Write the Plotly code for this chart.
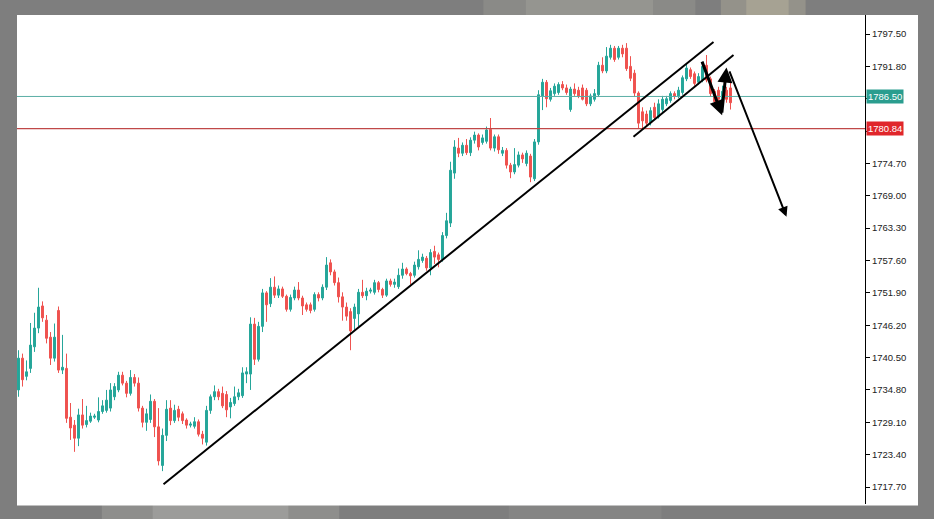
import plotly.graph_objects as go

# ---- data (candle index 0..178) ----
OPEN = [1734.8,1740.4,1737.2,1738.6,1742.4,1745.7,1749.6,1747.1,1744.1,1740.4,
        1748.8,1738.3,1738.6,1730.0,1728.6,1726.3,1730.4,1728.7,1729.3,1730.0,
        1729.5,1731.0,1731.2,1731.6,1733.6,1734.8,1737.4,1736.0,1734.2,1737.0,
        1736.0,1731.6,1729.1,1729.6,1732.8,1728.3,1721.5,1726.8,1731.6,1729.4,
        1731.4,1730.6,1729.5,1728.6,1728.4,1729.2,1727.0,1725.6,1731.2,1733.6,
        1734.5,1734.2,1734.0,1731.8,1732.4,1733.6,1733.8,1737.6,1737.6,1746.4,
        1740.2,1746.0,1751.9,1750.0,1752.9,1751.5,1752.6,1751.3,1749.0,1751.0,
        1752.4,1751.0,1749.8,1749.8,1749.0,1751.6,1751.0,1752.9,1757.2,1755.6,
        1753.7,1751.2,1749.4,1748.6,1747.4,1748.2,1752.0,1751.4,1752.2,1752.0,
        1753.7,1752.5,1751.5,1754.0,1753.4,1753.0,1755.0,1756.1,1755.3,1755.0,
        1756.5,1757.6,1758.0,1756.3,1759.2,1758.6,1757.8,1762.0,1764.2,1773.0,
        1777.4,1776.5,1777.9,1776.6,1778.8,1779.7,1778.4,1778.6,1780.7,1777.4,
        1779.4,1776.5,1777.0,1774.4,1773.2,1774.4,1776.2,1774.7,1776.0,1772.0,
        1778.5,1786.6,1789.0,1786.0,1787.0,1787.2,1788.6,1788.0,1784.2,1787.8,
        1787.6,1788.0,1787.6,1785.2,1786.0,1786.8,1792.0,1791.0,1793.4,1795.0,
        1793.4,1795.0,1795.0,1791.8,1790.6,1787.1,1783.8,1783.4,1781.9,1784.6,
        1782.9,1784.2,1785.2,1785.8,1787.0,1786.6,1787.2,1789.6,1791.2,1790.5,
        1789.0,1789.4,1792.0,1789.6,1787.4,1787.6,1785.4,1787.6,1788.0]
HIGH = [1741.8,1741.2,1740.0,1746.6,1748.4,1752.8,1750.4,1748.0,1745.0,1746.5,
        1749.5,1744.5,1741.2,1732.5,1729.5,1731.5,1733.2,1732.0,1730.8,1730.6,
        1733.5,1733.0,1734.8,1736.0,1736.0,1738.0,1738.0,1736.4,1738.3,1737.6,
        1737.0,1732.0,1731.5,1734.0,1733.2,1731.6,1728.0,1733.0,1733.0,1732.2,
        1732.0,1731.0,1729.8,1729.2,1730.0,1729.6,1727.6,1732.0,1734.0,1735.6,
        1735.0,1735.4,1734.6,1733.4,1735.4,1735.0,1738.8,1738.8,1747.6,1747.5,
        1746.8,1752.6,1752.2,1754.5,1754.8,1753.2,1753.0,1751.6,1751.6,1753.0,
        1753.8,1751.4,1750.2,1750.2,1752.0,1752.0,1753.4,1758.2,1757.8,1756.0,
        1754.6,1752.0,1750.2,1749.2,1750.0,1752.6,1754.2,1752.8,1752.8,1754.2,
        1754.0,1752.8,1754.4,1754.4,1754.4,1756.2,1757.2,1756.4,1755.6,1757.4,
        1759.4,1758.8,1758.4,1759.6,1760.2,1759.0,1762.6,1766.0,1775.0,1778.8,
        1779.2,1778.4,1779.0,1779.3,1780.3,1780.0,1779.8,1781.2,1782.7,1779.8,
        1779.8,1777.6,1777.4,1774.8,1777.4,1776.8,1776.6,1777.0,1776.4,1779.0,
        1787.6,1789.6,1789.4,1788.0,1788.8,1789.0,1789.2,1788.6,1788.2,1788.8,
        1788.2,1788.6,1788.0,1787.0,1787.8,1792.6,1793.4,1795.2,1795.6,1795.4,
        1795.4,1795.6,1795.9,1793.6,1791.2,1787.4,1784.6,1784.0,1784.6,1785.4,
        1786.0,1786.6,1786.6,1787.4,1787.4,1788.2,1790.2,1792.4,1791.6,1790.9,
        1790.6,1792.6,1793.8,1790.0,1787.8,1788.2,1788.4,1788.2,1789.0]
LOW = [1733.6,1735.4,1736.5,1737.8,1741.5,1744.8,1746.8,1743.0,1739.2,1739.8,
       1737.8,1737.6,1729.0,1726.0,1723.9,1724.9,1728.0,1728.2,1729.0,1729.7,
       1729.1,1730.6,1730.8,1731.0,1733.0,1734.4,1735.6,1733.5,1733.8,1735.4,
       1731.0,1728.2,1727.6,1729.0,1726.5,1721.5,1720.5,1725.8,1728.6,1729.0,
       1729.3,1728.8,1728.0,1728.2,1728.0,1726.6,1725.2,1725.0,1730.6,1733.0,
       1733.0,1731.6,1730.0,1729.8,1732.0,1733.0,1733.4,1736.0,1734.8,1739.2,
       1739.8,1745.0,1746.8,1749.4,1751.0,1751.0,1751.0,1748.6,1748.6,1750.6,
       1750.6,1748.0,1748.6,1748.3,1748.6,1750.4,1750.6,1752.4,1755.0,1753.2,
       1750.2,1747.0,1747.0,1741.8,1745.4,1746.0,1751.0,1750.6,1751.8,1751.6,
       1752.0,1751.0,1751.2,1753.0,1752.8,1752.6,1754.4,1755.0,1753.4,1754.6,
       1756.0,1757.2,1755.8,1755.0,1757.0,1756.4,1757.4,1761.5,1763.5,1772.0,
       1775.8,1776.0,1776.2,1776.0,1778.2,1777.0,1778.0,1778.2,1777.0,1776.8,
       1776.4,1776.0,1773.8,1772.1,1772.8,1774.0,1774.8,1774.2,1771.4,1771.6,
       1778.0,1784.1,1784.6,1785.6,1786.6,1786.8,1787.6,1786.8,1783.8,1786.6,
       1786.2,1785.8,1784.8,1784.8,1785.6,1786.4,1790.6,1790.6,1793.0,1792.6,
       1793.0,1793.4,1791.0,1789.2,1786.4,1780.9,1780.9,1781.2,1781.4,1782.4,
       1782.6,1783.8,1784.8,1785.4,1786.0,1786.2,1786.8,1789.2,1789.6,1788.4,
       1788.6,1789.0,1789.0,1786.4,1785.0,1785.4,1784.8,1785.4,1784.2]
CLOSE = [1740.4,1736.6,1738.0,1742.7,1745.7,1749.4,1747.5,1743.9,1740.4,1744.1,
         1738.3,1738.8,1729.8,1728.1,1726.3,1730.4,1728.6,1729.4,1730.2,1730.2,
         1731.0,1732.0,1733.0,1734.8,1735.4,1737.4,1736.0,1734.2,1737.0,1736.0,
         1731.6,1729.1,1730.6,1732.8,1728.3,1722.3,1726.8,1731.4,1729.4,1731.2,
         1730.0,1729.4,1728.6,1728.8,1729.2,1727.0,1726.3,1731.2,1733.6,1734.5,
         1733.6,1732.0,1731.3,1732.6,1733.6,1734.3,1737.8,1738.0,1746.4,1740.2,
         1746.0,1751.9,1749.8,1752.9,1751.5,1752.6,1751.3,1749.0,1751.1,1752.4,
         1751.0,1749.6,1749.0,1748.8,1751.6,1751.0,1752.9,1756.8,1755.6,1753.7,
         1751.2,1749.4,1747.8,1745.2,1749.4,1752.0,1751.4,1752.2,1752.4,1753.7,
         1752.5,1751.5,1754.0,1753.4,1753.8,1755.0,1756.1,1755.3,1754.9,1756.8,
         1757.8,1758.2,1756.3,1759.0,1758.2,1757.8,1762.0,1764.6,1773.5,1777.6,
         1776.5,1777.9,1776.6,1778.8,1779.7,1777.6,1779.2,1780.6,1777.4,1779.4,
         1777.1,1777.0,1774.4,1773.2,1774.5,1776.2,1775.5,1776.5,1772.3,1778.5,
         1786.8,1789.0,1786.1,1787.5,1788.3,1788.6,1788.0,1787.2,1787.8,1787.0,
         1786.6,1786.0,1785.2,1786.6,1787.0,1792.0,1791.0,1793.6,1795.0,1793.0,
         1795.0,1794.0,1791.4,1789.7,1787.1,1781.8,1782.2,1781.8,1784.0,1782.8,
         1785.2,1786.0,1786.1,1787.0,1786.5,1787.6,1789.8,1791.5,1790.0,1788.8,
         1790.0,1791.8,1789.4,1787.0,1785.6,1786.0,1787.4,1786.0,1785.4]
IDX = list(range(len(CLOSE)))

TICKS = [1717.70, 1723.40, 1729.10, 1734.80, 1740.50, 1746.20, 1751.90,
         1757.60, 1763.30, 1769.00, 1774.70, 1780.40, 1786.10, 1791.80, 1797.50]
HIDDEN_TICKS = [1780.40, 1786.10]
BID_LEVEL = 1786.50
LEVEL_2 = 1780.84

# drawn lines (candle index, price)
TREND_X = [36.25, 173.75]
TREND_Y = [1718.2, 1796.1]
CHANNEL_X = [153.75, 178.75]
CHANNEL_Y = [1779.4, 1793.8]
# arrows: tail x, tail y, head x, head y, width
ARROWS = [(170.75, 1792.9, 175.9, 1783.2, 3),
          (175.8, 1783.4, 177.0, 1791.6, 3),
          (177.6, 1791.2, 192.0, 1765.3, 2)]

GREEN = "#26a69a"
RED = "#ef5350"

fig = go.Figure()
fig.add_trace(go.Candlestick(
    x=IDX, open=OPEN, high=HIGH, low=LOW, close=CLOSE,
    increasing=dict(line=dict(color=GREEN, width=1), fillcolor=GREEN),
    decreasing=dict(line=dict(color=RED, width=1), fillcolor=RED),
    whiskerwidth=0, showlegend=False, hoverinfo="skip"))

shapes = []
# blurred grey surroundings (soft, layered patches)
for x0, x1, y0, y1, col in [
        (0.55, 0.80, 1.0, 1.04, "rgba(175,175,165,0.25)"),
        (0.60, 0.75, 1.0, 1.04, "rgba(185,185,170,0.25)"),
        (0.83, 0.93, 1.0, 1.04, "rgba(200,192,165,0.3)"),
        (0.86, 0.91, 1.0, 1.04, "rgba(210,200,170,0.3)"),
        (0.10, 0.38, -0.04, 0.0, "rgba(190,190,185,0.25)"),
        (0.16, 0.32, -0.04, 0.0, "rgba(200,200,195,0.25)"),
        (0.58, 0.76, -0.04, 0.0, "rgba(165,165,160,0.2)")]:
    shapes.append(dict(type="rect", xref="paper", yref="paper", x0=x0, x1=x1,
                       y0=y0, y1=y1, fillcolor=col, line_width=0, layer="below"))
# white chart panel (incl. price scale)
shapes.append(dict(type="rect", xref="paper", yref="paper", x0=0, x1=1.0625,
                   y0=-0.003, y1=1.0, fillcolor="white", line_width=0, layer="below"))
# horizontal price lines
shapes.append(dict(type="line", xref="paper", yref="y", x0=0, x1=1,
                   y0=BID_LEVEL, y1=BID_LEVEL, line=dict(color="#5aaea6", width=1)))
shapes.append(dict(type="line", xref="paper", yref="y", x0=0, x1=1,
                   y0=LEVEL_2, y1=LEVEL_2, line=dict(color="#c04848", width=1.3)))
# trend lines
shapes.append(dict(type="line", xref="x", yref="y", x0=TREND_X[0], x1=TREND_X[1],
                   y0=TREND_Y[0], y1=TREND_Y[1], line=dict(color="black", width=2)))
shapes.append(dict(type="line", xref="x", yref="y", x0=CHANNEL_X[0], x1=CHANNEL_X[1],
                   y0=CHANNEL_Y[0], y1=CHANNEL_Y[1], line=dict(color="black", width=2)))

annotations = []
for tx, ty, hx, hy, w in ARROWS:
    annotations.append(dict(x=hx, y=hy, ax=tx, ay=ty, xref="x", yref="y",
                            axref="x", ayref="y", text="", showarrow=True,
                            arrowhead=2, arrowsize=1.0, arrowwidth=w,
                            arrowcolor="black"))
for lvl, col in [(BID_LEVEL, "#2a9d8f"), (LEVEL_2, "#e0262b")]:
    annotations.append(dict(x=1, y=lvl, xref="paper", yref="y", xanchor="left",
                            yanchor="middle", xshift=1, text=f"{lvl:.2f}",
                            showarrow=False, bgcolor=col, borderpad=1,
                            font=dict(family="Liberation Sans", size=9.5, color="white")))

ticktext = ["" if t in HIDDEN_TICKS else f"{t:.2f}" for t in TICKS]

fig.update_layout(
    width=934, height=519,
    margin=dict(l=17, r=69, t=15, b=15),
    paper_bgcolor="#7e7e7e", plot_bgcolor="white",
    shapes=shapes, annotations=annotations,
    xaxis=dict(range=[-0.375, 211.625], visible=False, rangeslider=dict(visible=False),
               showgrid=False, zeroline=False),
    yaxis=dict(range=[1714.71, 1800.85], side="right", tickvals=TICKS, ticktext=ticktext,
               showgrid=False, zeroline=False, showline=True, linecolor="black",
               linewidth=1, ticks="outside", ticklen=4, tickcolor="black",
               tickfont=dict(family="Liberation Sans", size=9.5, color="#222222"),
               fixedrange=True),
    showlegend=False,
)

fig.write_html("out.html", config={"displayModeBar": False},
               post_script="document.body.style.margin='0';document.body.style.overflow='hidden';")
